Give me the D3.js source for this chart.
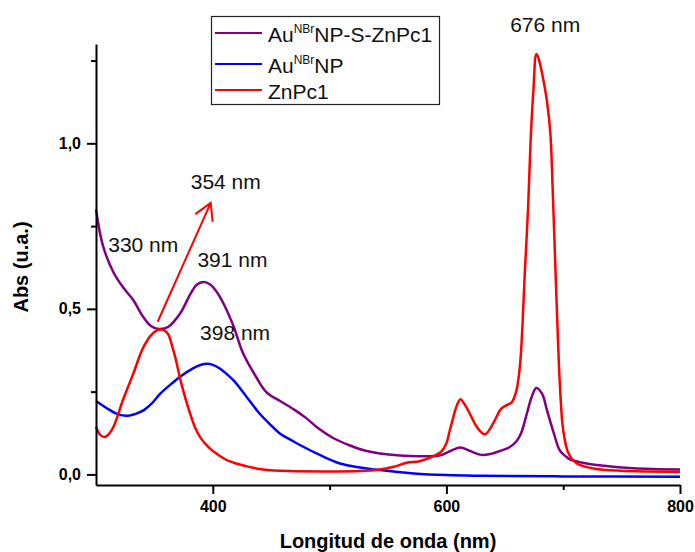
<!DOCTYPE html>
<html>
<head>
<meta charset="utf-8">
<script src="https://cdn.jsdelivr.net/npm/d3@7"></script>
<style>
  body { margin: 0; background: #fff; }
  text { font-family: 'Liberation Sans', Arial, sans-serif; }
</style>
</head>
<body>
<div id="chart"></div>
<script>
// Au(NBr)NP-S-ZnPc1 (hybrid)
const hybridNm  = [300, 306, 315, 323, 332, 340, 347, 354, 362, 372, 381, 386, 392, 398, 404, 410, 418, 426, 437, 446, 458, 470, 480, 490, 503, 517, 530, 543, 560, 577, 595, 603, 612, 620, 630, 638, 646, 654, 660, 664, 669, 673, 677, 682, 686, 692, 697, 702, 706, 720, 735, 750, 777, 800];
const hybridAbs = [0.80, 0.69, 0.61, 0.566, 0.526, 0.478, 0.448, 0.439, 0.446, 0.486, 0.546, 0.572, 0.581, 0.573, 0.548, 0.51, 0.445, 0.365, 0.295, 0.248, 0.221, 0.195, 0.17, 0.14, 0.11, 0.088, 0.072, 0.063, 0.057, 0.055, 0.058, 0.07, 0.081, 0.071, 0.059, 0.062, 0.071, 0.082, 0.10, 0.125, 0.185, 0.234, 0.261, 0.243, 0.195, 0.124, 0.073, 0.055, 0.045, 0.033, 0.026, 0.021, 0.016, 0.015];

// Au(NBr)NP
const goldNm  = [300, 312, 318, 326, 334, 341, 348, 355, 364, 372, 383, 390, 395, 400, 406, 412, 418, 429, 440, 450, 458, 466, 475, 492, 509, 526, 543, 572, 600, 630, 700, 800];
const goldAbs = [0.222, 0.194, 0.183, 0.177, 0.183, 0.194, 0.215, 0.244, 0.272, 0.295, 0.32, 0.331, 0.334, 0.331, 0.32, 0.303, 0.283, 0.234, 0.184, 0.148, 0.122, 0.106, 0.088, 0.058, 0.033, 0.021, 0.013, 0.003, -0.002, -0.004, -0.006, -0.007];

// ZnPc1
const pcNm  = [300, 303, 307, 311, 315, 323, 332, 340, 347, 352, 355, 359, 362, 365, 368, 373, 380, 385, 390, 397, 403, 411, 420, 432, 443, 466, 500, 526, 543, 555, 566, 577, 589, 596, 600, 603, 606, 609, 612, 615, 620, 626, 633, 640, 647, 652, 656, 660, 663, 665, 667, 670, 672, 674.5, 677, 679, 682, 686, 689, 691, 693, 695, 697.4, 700, 704.6, 711.7, 726, 749, 800];
const pcAbs = [0.144, 0.122, 0.113, 0.122, 0.144, 0.224, 0.305, 0.38, 0.42, 0.435, 0.438, 0.434, 0.422, 0.39, 0.352, 0.275, 0.19, 0.14, 0.108, 0.08, 0.063, 0.045, 0.033, 0.022, 0.015, 0.010, 0.009, 0.010, 0.015, 0.023, 0.035, 0.040, 0.055, 0.07, 0.094, 0.134, 0.174, 0.209, 0.227, 0.215, 0.184, 0.144, 0.121, 0.154, 0.199, 0.21, 0.218, 0.254, 0.33, 0.44, 0.60, 0.81, 1.0, 1.16, 1.27, 1.255, 1.21, 1.13, 1.03, 0.86, 0.657, 0.456, 0.254, 0.134, 0.063, 0.033, 0.018, 0.011, 0.008];

const xMajorTicks = [400, 600, 800];
const xMinorTicks = [500, 700];
const yMajorTicks = [0, 0.5, 1.0];
const yMinorTicks = [0.25, 0.75, 1.25];

// legend text: [main, superscript, rest]
const legendLabels = [['Au', 'NBr', 'NP-S-ZnPc1'], ['Au', 'NBr', 'NP'], ['ZnPc1', '', '']];

// peak labels, anchored in data units (nm, abs)
const peakLabels = [
  { text: '330 nm', nm: 310.5, abs: 0.671 },
  { text: '354 nm', nm: 381.1, abs: 0.861 },
  { text: '391 nm', nm: 386.8, abs: 0.626 },
  { text: '398 nm', nm: 389.1, abs: 0.405 },
  { text: '676 nm', nm: 654.6, abs: 1.337 }
];
const arrowFrom = [352.8, 0.461];
const arrowTo = [398.2, 0.82];

const settings = {
  width: 695,
  height: 552,
  left: 96,
  right: 680,
  top: 44,
  bottom: 485,
  lineWidth: 2.5,
  colors: ['#800080', '#0000ff', '#ff0000']
};

const series = [
  { nm: hybridNm, abs: hybridAbs },
  { nm: goldNm, abs: goldAbs },
  { nm: pcNm, abs: pcAbs }
];

const svg = d3.select('#chart').append('svg')
  .attr('width', settings.width)
  .attr('height', settings.height);

const x = d3.scaleLinear().domain([300, 800]).range([settings.left, settings.right]);
const y = d3.scaleLinear().domain([-0.032, 1.3]).range([settings.bottom, settings.top]);

const line = d3.line()
  .x(d => x(d[0]))
  .y(d => y(d[1]))
  .curve(d3.curveCatmullRom.alpha(0.5));

series.forEach((s, i) => {
  svg.append('path')
    .datum(s.nm.map((n, j) => [n, s.abs[j]]))
    .attr('d', line)
    .attr('fill', 'none')
    .attr('stroke', settings.colors[i])
    .attr('stroke-width', settings.lineWidth)
    .attr('stroke-linejoin', 'round');
});

// axes
const commaFmt = v => v.toFixed(1).replace('.', ',');

svg.append('g')
  .attr('transform', `translate(0,${settings.bottom})`)
  .call(d3.axisBottom(x).tickValues(xMajorTicks).tickSize(9).tickSizeOuter(0).tickPadding(7).tickFormat(d3.format('d')));
svg.append('g')
  .attr('transform', `translate(0,${settings.bottom})`)
  .call(d3.axisBottom(x).tickValues(xMinorTicks).tickSize(5).tickSizeOuter(0).tickFormat(''))
  .select('.domain').remove();

svg.append('g')
  .attr('transform', `translate(${settings.left},0)`)
  .call(d3.axisLeft(y).tickValues(yMajorTicks).tickSize(9).tickSizeOuter(0).tickPadding(6).tickFormat(commaFmt));
svg.append('g')
  .attr('transform', `translate(${settings.left},0)`)
  .call(d3.axisLeft(y).tickValues(yMinorTicks).tickSize(5).tickSizeOuter(0).tickFormat(''))
  .select('.domain').remove();

svg.selectAll('.domain').attr('stroke', '#000').attr('stroke-width', 2);
svg.selectAll('.tick line').attr('stroke', '#000').attr('stroke-width', 2);
svg.selectAll('.tick text')
  .attr('font-family', "'Liberation Sans', Arial, sans-serif")
  .attr('font-size', 16)
  .attr('font-weight', 'bold')
  .attr('fill', '#000');

svg.append('text')
  .attr('x', (settings.left + settings.right) / 2)
  .attr('y', 548)
  .attr('text-anchor', 'middle')
  .attr('font-size', 20)
  .attr('font-weight', 'bold')
  .text('Longitud de onda (nm)');

svg.append('text')
  .attr('transform', 'translate(28,267) rotate(-90)')
  .attr('text-anchor', 'middle')
  .attr('font-size', 20)
  .attr('font-weight', 'bold')
  .text('Abs (u.a.)');

// peak labels
svg.selectAll('.peak')
  .data(peakLabels)
  .enter().append('text')
  .attr('x', d => x(d.nm))
  .attr('y', d => y(d.abs))
  .attr('font-size', 21)
  .attr('fill', '#111')
  .text(d => d.text);

// arrow
const ax0 = x(arrowFrom[0]), ay0 = y(arrowFrom[1]);
const ax1 = x(arrowTo[0]), ay1 = y(arrowTo[1]);
const back = Math.atan2(ay0 - ay1, ax0 - ax1);
const wing = 19, spread = Math.PI / 6;
svg.append('path')
  .attr('d', `M${ax0},${ay0}L${ax1},${ay1}` +
    `M${ax1 + wing * Math.cos(back + spread)},${ay1 + wing * Math.sin(back + spread)}L${ax1},${ay1}` +
    `L${ax1 + wing * Math.cos(back - spread)},${ay1 + wing * Math.sin(back - spread)}`)
  .attr('fill', 'none')
  .attr('stroke', '#ff0000')
  .attr('stroke-width', 2);

// legend
const legend = svg.append('g');
legend.append('rect')
  .attr('x', 211.5).attr('y', 16.5)
  .attr('width', 228).attr('height', 88)
  .attr('fill', '#fff')
  .attr('stroke', '#222')
  .attr('stroke-width', 1.2);

const rowY = [33, 64, 90];
legendLabels.forEach((lab, i) => {
  legend.append('line')
    .attr('x1', 215).attr('x2', 262)
    .attr('y1', rowY[i]).attr('y2', rowY[i])
    .attr('stroke', settings.colors[i])
    .attr('stroke-width', 2);
  const t = legend.append('text')
    .attr('x', 268)
    .attr('y', rowY[i] + 8.5)
    .attr('font-size', 21)
    .attr('fill', '#111');
  t.append('tspan').text(lab[0]);
  if (lab[1]) {
    t.append('tspan').attr('font-size', 12).attr('dy', -9).text(lab[1]);
    t.append('tspan').attr('dy', 9).text(lab[2]);
  }
});
</script>
</body>
</html>
